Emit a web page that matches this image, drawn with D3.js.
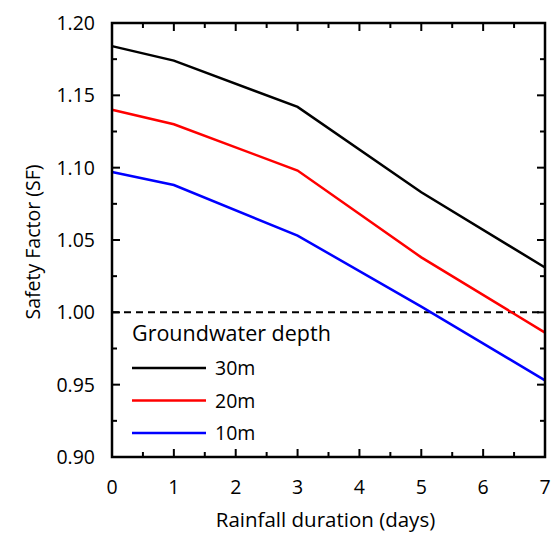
<!DOCTYPE html>
<html><head><meta charset="utf-8">
<script src="https://cdn.jsdelivr.net/npm/d3@7"></script>
<style>body{margin:0;background:#fff}svg{display:block}text{font-family:"Open Sans",sans-serif;fill:#000}</style>
</head><body>
<script>
const days = [0, 1, 3, 5, 7];
const sf30 = [1.184, 1.174, 1.142, 1.083, 1.031];
const sf20 = [1.140, 1.130, 1.098, 1.038, 0.986];
const sf10 = [1.097, 1.088, 1.053, 1.004, 0.953];
const seriesNames = ["30m", "20m", "10m"];
const seriesColors = ["#000000", "#ff0000", "#0000ff"];
const xTicks = [0,1,2,3,4,5,6,7];
const yTicks = [0.90,0.95,1.00,1.05,1.10,1.15,1.20];
const threshold = 1.0;

const W=552,H=534, L=112,R=545,T=23,B=457;
const svg=d3.select("body").append("svg").attr("width",W).attr("height",H);
const x=d3.scaleLinear().domain([0,7]).range([L,R]);
const y=d3.scaleLinear().domain([0.90,1.20]).range([B,T]);

const g=svg.append("g");
const xMinor=d3.range(0,7.01,0.5), yMinor=d3.range(0.90,1.2001,0.025);
function isMajor(v,s){return Math.abs(v/s-Math.round(v/s))<1e-6;}
xMinor.forEach(v=>{const len=isMajor(v,1)?8:5;
  g.append("line").attr("x1",x(v)).attr("x2",x(v)).attr("y1",B).attr("y2",B-len).attr("stroke","#000").attr("stroke-width",2);
  g.append("line").attr("x1",x(v)).attr("x2",x(v)).attr("y1",T).attr("y2",T+len).attr("stroke","#000").attr("stroke-width",2);});
yMinor.forEach(v=>{const len=isMajor(v,0.05)?8:5;
  g.append("line").attr("y1",y(v)).attr("y2",y(v)).attr("x1",L).attr("x2",L+len).attr("stroke","#000").attr("stroke-width",2);
  g.append("line").attr("y1",y(v)).attr("y2",y(v)).attr("x1",R).attr("x2",R-len).attr("stroke","#000").attr("stroke-width",2);});

g.selectAll(".xl").data(xTicks).join("text").attr("x",d=>x(d)).attr("y",494).attr("text-anchor","middle").attr("font-size",19.5).text(d=>d);
g.selectAll(".yl").data(yTicks).join("text").attr("x",95).attr("y",d=>y(d)+7).attr("text-anchor","end").attr("font-size",19.5).text(d=>d.toFixed(2));

svg.append("line").attr("x1",x(0)).attr("x2",x(7)).attr("y1",y(threshold)).attr("y2",y(threshold)).attr("stroke","#000").attr("stroke-width",2).attr("stroke-dasharray","7,5");

const line=d3.line().x((d,i)=>x(days[i])).y(d=>y(d));
[sf30,sf20,sf10].forEach((s,i)=>svg.append("path").attr("d",line(s)).attr("fill","none").attr("stroke",seriesColors[i]).attr("stroke-width",2.5));

svg.append("rect").attr("x",L).attr("y",T).attr("width",R-L).attr("height",B-T).attr("fill","none").attr("stroke","#000").attr("stroke-width",2.5);

svg.append("text").attr("x",132).attr("y",341).attr("font-size",21.5).text("Groundwater depth");
seriesNames.forEach((n,i)=>{const yy=368+i*32.5;
  svg.append("line").attr("x1",132).attr("x2",206).attr("y1",yy).attr("y2",yy).attr("stroke",seriesColors[i]).attr("stroke-width",2.5);
  svg.append("text").attr("x",215).attr("y",yy+7).attr("font-size",19.5).text(n);});

svg.append("text").attr("x",(L+R)/2-3).attr("y",527).attr("text-anchor","middle").attr("font-size",20.5).text("Rainfall duration (days)");
svg.append("text").attr("transform",`translate(40,${(T+B)/2+2}) rotate(-90)`).attr("text-anchor","middle").attr("font-size",19.5).text("Safety Factor (SF)");
</script></body></html>
